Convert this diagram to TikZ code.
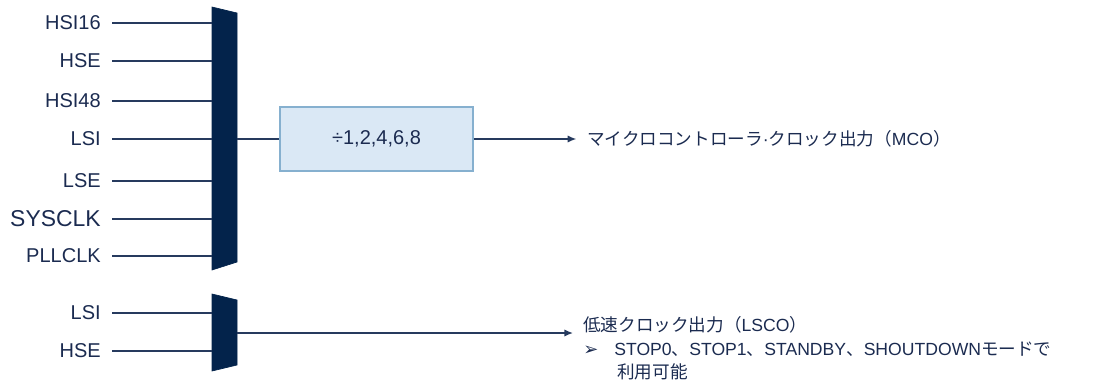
\documentclass[tikz,border=0pt]{standalone}
\usepackage{fontspec}
\setmainfont{Liberation Sans}
\newfontfamily\jp{Noto Sans CJK JP}
\newfontfamily\dv{DejaVu Sans}
\usetikzlibrary{arrows.meta}
\definecolor{navy}{HTML}{03234B}
\definecolor{txt}{HTML}{1B2B50}
\definecolor{wire}{HTML}{263A5E}
\definecolor{boxfill}{HTML}{DAE8F5}
\definecolor{boxline}{HTML}{86B0CF}
\tikzset{
  inlabel/.style={anchor=east, inner sep=0pt, text=txt, font=\fontsize{15}{18}\selectfont},
  wireline/.style={draw=wire, line width=1.1pt},
  muxshape/.style={fill=navy, draw=navy, line width=0.5pt},
  divbox/.style={draw=boxline, fill=boxfill, line width=0.9pt, minimum width=193*0.75pt, minimum height=64*0.75pt, inner sep=0pt, text=txt, font=\fontsize{15}{18}\selectfont},
  outtext/.style={anchor=west, inner sep=0pt, text=txt, font=\fontsize{13.2}{16}\selectfont},
  arr/.style={wireline, -{Latex[length=6.5pt,width=5.5pt]}}
}
\begin{document}
\begin{tikzpicture}[x=0.75pt,y=-0.75pt]
\useasboundingbox (0,0) rectangle (1106,383);
% mux 1
\draw[muxshape] (212,7) -- (237,13) -- (237,262) -- (212,270) -- cycle;
% mux 2
\draw[muxshape] (212,294) -- (237,300) -- (237,365) -- (212,371) -- cycle;

% inputs mux 1
\foreach \n/\t/\y in {a/HSI16/23, b/HSE/61, c/HSI48/101, d/LSI/139, e/LSE/181, g/PLLCLK/256}{
  \node[inlabel] (l\n) at (101,\y) {\t};
  \coordinate (i\n) at (212,\y);
  \draw[wireline] ([xshift=8.25pt]l\n.east) -- (i\n);
}
\node[inlabel, font=\fontsize{17.2}{20}\selectfont] (lf) at (101,219) {SYSCLK};
\coordinate (if) at (212,219);
\draw[wireline] ([xshift=8.25pt]lf.east) -- (if);

% inputs mux 2
\foreach \n/\t/\y in {p/LSI/313, q/HSE/351}{
  \node[inlabel] (l\n) at (101,\y) {\t};
  \coordinate (i\n) at (212,\y);
  \draw[wireline] ([xshift=8.25pt]l\n.east) -- (i\n);
}

% divider and outputs
\coordinate (m1out) at (237,139);
\node[divbox] (div) at (376.5,139) {÷1,2,4,6,8};
\draw[wireline] (m1out) -- (div.west);
\node[outtext] (mco) at (587,139) {{\jp マイクロコントローラ}·{\jp クロック出力（}MCO{\jp ）}};
\draw[arr] (div.east) -- ([xshift=-8pt]mco.west);

\coordinate (m2out) at (237,333);
\coordinate (lscoin) at (573,333);
\draw[arr] (m2out) -- (lscoin);
\node[outtext] (lsco1) at (583,325) {{\jp 低速クロック出力（}LSCO{\jp ）}};
\node[outtext] (lsco2) at (583,349) {{\dv\fontsize{13.5}{14}\selectfont ➢}\hspace{12pt}STOP0{\jp 、}STOP1{\jp 、}STANDBY{\jp 、}SHOUTDOWN{\jp モードで}};
\node[outtext] (lsco3) at (617,372) {{\jp 利用可能}};
\end{tikzpicture}
\end{document}
